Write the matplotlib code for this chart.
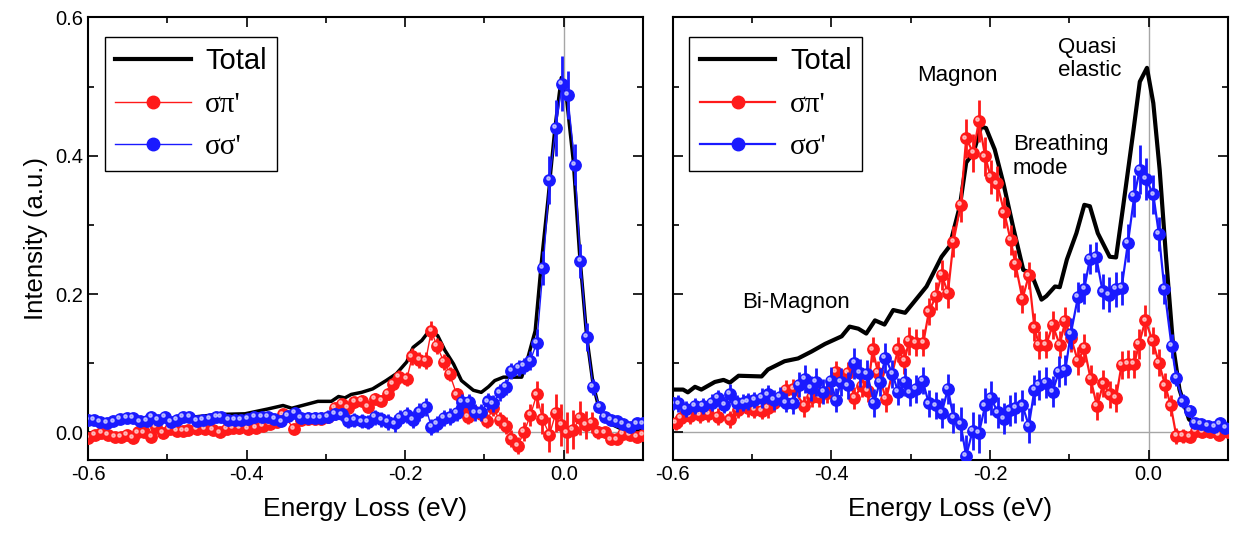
import matplotlib
matplotlib.use("Agg")
import matplotlib.pyplot as plt
from matplotlib.lines import Line2D
from matplotlib.transforms import offset_copy
import numpy as np

plt.rcParams['font.family'] = ['Liberation Sans', 'DejaVu Sans']

# ---- left panel ----
left_total_e = [-0.600, -0.562, -0.541, -0.520, -0.478, -0.436, -0.402, -0.373, -0.354, -0.343,
                -0.310, -0.293, -0.284, -0.276, -0.268, -0.255, -0.241, -0.224, -0.211, -0.198,
                -0.190, -0.179, -0.169, -0.159, -0.150, -0.139, -0.129, -0.114, -0.104, -0.095,
                -0.087, -0.076, -0.064, -0.053, -0.045, -0.036, -0.028, -0.020, -0.011, -0.003,
                0.003, 0.012, 0.020, 0.029, 0.037, 0.045, 0.058, 0.071, 0.083, 0.098]
left_total_i = [0.017, 0.015, 0.017, 0.015, 0.021, 0.026, 0.027, 0.034, 0.039, 0.035,
                0.045, 0.045, 0.052, 0.050, 0.055, 0.058, 0.063, 0.075, 0.085, 0.102,
                0.123, 0.133, 0.148, 0.140, 0.119, 0.099, 0.075, 0.061, 0.058, 0.066,
                0.075, 0.080, 0.080, 0.080, 0.109, 0.147, 0.248, 0.335, 0.441, 0.513,
                0.489, 0.393, 0.258, 0.138, 0.070, 0.032, 0.013, 0.006, 0.003, 0.003]

left_sp_e = [-0.600, -0.591, -0.583, -0.575, -0.566, -0.558, -0.551, -0.543, -0.537, -0.529,
             -0.520, -0.514, -0.505, -0.497, -0.488, -0.480, -0.474, -0.463, -0.453, -0.442,
             -0.434, -0.425, -0.417, -0.409, -0.398, -0.388, -0.379, -0.371, -0.362, -0.354,
             -0.340, -0.331, -0.322, -0.314, -0.306, -0.297, -0.289, -0.280, -0.272, -0.264,
             -0.255, -0.247, -0.238, -0.230, -0.222, -0.215, -0.208, -0.198, -0.191, -0.182,
             -0.174, -0.167, -0.160, -0.151, -0.144, -0.135, -0.127, -0.121, -0.112, -0.104,
             -0.097, -0.089, -0.081, -0.073, -0.066, -0.058, -0.050, -0.042, -0.034, -0.027,
             -0.018, -0.010, -0.003, 0.004, 0.012, 0.020, 0.028, 0.036, 0.043, 0.052,
             0.059, 0.067, 0.075, 0.083, 0.092, 0.100]
left_sp_i = [-0.008, -0.003, -0.001, -0.003, -0.006, -0.006, -0.004, -0.008, 0.000, 0.000,
             -0.006, 0.008, -0.001, 0.005, 0.002, 0.002, 0.003, 0.005, 0.005, 0.004,
             0.000, 0.005, 0.007, 0.007, 0.005, 0.007, 0.010, 0.012, 0.015, 0.026,
             0.005, 0.018, 0.019, 0.020, 0.020, 0.022, 0.036, 0.041, 0.036, 0.044,
             0.046, 0.037, 0.049, 0.046, 0.056, 0.070, 0.080, 0.077, 0.110, 0.105,
             0.104, 0.147, 0.125, 0.102, 0.085, 0.055, 0.034, 0.022, 0.029, 0.026,
             0.016, 0.036, 0.018, 0.010, -0.009, -0.019, 0.001, 0.025, 0.055, 0.020,
             -0.003, 0.028, 0.011, 0.000, 0.004, 0.021, 0.011, 0.014, 0.000, 0.000,
             -0.010, -0.010, -0.002, -0.003, -0.006, -0.004]
left_sp_err = [0.004, 0.004, 0.004, 0.004, 0.004, 0.004, 0.004, 0.004, 0.004, 0.004,
               0.004, 0.005, 0.004, 0.004, 0.004, 0.004, 0.004, 0.004, 0.004, 0.004,
               0.004, 0.004, 0.005, 0.005, 0.005, 0.005, 0.005, 0.005, 0.006, 0.006,
               0.006, 0.006, 0.006, 0.006, 0.007, 0.007, 0.007, 0.008, 0.008, 0.008,
               0.008, 0.008, 0.008, 0.008, 0.009, 0.010, 0.010, 0.010, 0.012, 0.012,
               0.012, 0.014, 0.012, 0.012, 0.010, 0.010, 0.010, 0.010, 0.010, 0.010,
               0.010, 0.012, 0.012, 0.012, 0.012, 0.012, 0.014, 0.016, 0.020, 0.022,
               0.025, 0.028, 0.030, 0.030, 0.028, 0.025, 0.020, 0.015, 0.010, 0.008,
               0.006, 0.006, 0.005, 0.005, 0.005, 0.005]

left_ss_e = [-0.600, -0.593, -0.585, -0.576, -0.568, -0.560, -0.551, -0.543, -0.535, -0.526,
             -0.520, -0.512, -0.503, -0.495, -0.488, -0.480, -0.472, -0.463, -0.455, -0.446,
             -0.438, -0.432, -0.423, -0.415, -0.407, -0.398, -0.390, -0.381, -0.373, -0.365,
             -0.356, -0.348, -0.339, -0.331, -0.322, -0.314, -0.306, -0.297, -0.289, -0.280,
             -0.272, -0.264, -0.255, -0.247, -0.238, -0.230, -0.222, -0.213, -0.207, -0.198,
             -0.190, -0.182, -0.174, -0.167, -0.160, -0.151, -0.143, -0.135, -0.128, -0.120,
             -0.112, -0.104, -0.096, -0.089, -0.081, -0.073, -0.066, -0.057, -0.050, -0.042,
             -0.034, -0.026, -0.018, -0.010, -0.002, 0.005, 0.014, 0.021, 0.029, 0.037,
             0.045, 0.052, 0.059, 0.067, 0.075, 0.083, 0.092, 0.100]
left_ss_i = [0.018, 0.018, 0.015, 0.014, 0.016, 0.020, 0.021, 0.021, 0.016, 0.017,
             0.023, 0.018, 0.022, 0.015, 0.018, 0.023, 0.022, 0.017, 0.018, 0.020,
             0.022, 0.023, 0.018, 0.018, 0.018, 0.020, 0.022, 0.023, 0.022, 0.020,
             0.016, 0.024, 0.028, 0.021, 0.021, 0.021, 0.021, 0.023, 0.027, 0.026,
             0.017, 0.018, 0.016, 0.015, 0.022, 0.019, 0.015, 0.013, 0.021, 0.025,
             0.018, 0.030, 0.037, 0.008, 0.012, 0.021, 0.023, 0.028, 0.044, 0.044,
             0.029, 0.029, 0.045, 0.042, 0.058, 0.066, 0.089, 0.093, 0.096, 0.104,
             0.130, 0.238, 0.365, 0.440, 0.504, 0.488, 0.387, 0.248, 0.138, 0.066,
             0.037, 0.022, 0.018, 0.016, 0.012, 0.008, 0.013, 0.013]
left_ss_err = [0.004, 0.004, 0.004, 0.004, 0.004, 0.004, 0.004, 0.004, 0.004, 0.004,
               0.004, 0.004, 0.004, 0.004, 0.004, 0.004, 0.004, 0.004, 0.004, 0.004,
               0.005, 0.005, 0.005, 0.005, 0.005, 0.005, 0.005, 0.006, 0.006, 0.006,
               0.006, 0.006, 0.007, 0.007, 0.008, 0.008, 0.008, 0.009, 0.009, 0.009,
               0.010, 0.010, 0.010, 0.010, 0.011, 0.011, 0.012, 0.012, 0.012, 0.012,
               0.012, 0.013, 0.013, 0.012, 0.012, 0.012, 0.012, 0.012, 0.012, 0.012,
               0.012, 0.012, 0.012, 0.012, 0.012, 0.012, 0.012, 0.012, 0.012, 0.014,
               0.020, 0.025, 0.035, 0.040, 0.040, 0.035, 0.030, 0.025, 0.020, 0.012,
               0.008, 0.006, 0.005, 0.005, 0.005, 0.005, 0.005, 0.005]

# ---- right panel ----
right_total_e = [-0.600, -0.587, -0.581, -0.572, -0.564, -0.547, -0.536, -0.528, -0.517, -0.488,
                 -0.480, -0.459, -0.442, -0.425, -0.408, -0.387, -0.377, -0.366, -0.356, -0.345,
                 -0.333, -0.322, -0.307, -0.297, -0.280, -0.261, -0.251, -0.238, -0.230, -0.221,
                 -0.211, -0.205, -0.194, -0.183, -0.171, -0.158, -0.148, -0.135, -0.129, -0.118,
                 -0.112, -0.103, -0.091, -0.081, -0.074, -0.064, -0.049, -0.041, -0.032, -0.019,
                 -0.011, -0.002, 0.006, 0.014, 0.022, 0.031, 0.039, 0.051, 0.064, 0.100]
right_total_i = [0.062, 0.062, 0.058, 0.066, 0.062, 0.073, 0.076, 0.072, 0.082, 0.081,
                 0.091, 0.103, 0.107, 0.117, 0.128, 0.139, 0.153, 0.150, 0.143, 0.162,
                 0.156, 0.177, 0.173, 0.187, 0.211, 0.254, 0.269, 0.327, 0.390, 0.404,
                 0.442, 0.440, 0.409, 0.360, 0.298, 0.235, 0.230, 0.192, 0.197, 0.211,
                 0.210, 0.250, 0.288, 0.329, 0.327, 0.288, 0.254, 0.253, 0.327, 0.437,
                 0.507, 0.527, 0.476, 0.380, 0.254, 0.125, 0.062, 0.019, 0.007, 0.002]

right_sp_e = [-0.596, -0.590, -0.578, -0.566, -0.555, -0.543, -0.528, -0.518, -0.505, -0.497,
              -0.488, -0.480, -0.472, -0.457, -0.448, -0.434, -0.425, -0.415, -0.405, -0.394,
              -0.379, -0.371, -0.362, -0.354, -0.348, -0.341, -0.331, -0.316, -0.308, -0.302,
              -0.293, -0.284, -0.277, -0.268, -0.261, -0.253, -0.246, -0.237, -0.230, -0.221,
              -0.214, -0.206, -0.199, -0.191, -0.182, -0.174, -0.168, -0.159, -0.151, -0.144,
              -0.138, -0.129, -0.121, -0.112, -0.105, -0.098, -0.089, -0.081, -0.073, -0.065,
              -0.057, -0.049, -0.041, -0.034, -0.026, -0.018, -0.012, -0.004, 0.005, 0.013,
              0.021, 0.028, 0.035, 0.043, 0.052, 0.060, 0.068, 0.077, 0.089, 0.100]
right_sp_i = [0.014, 0.021, 0.024, 0.025, 0.027, 0.023, 0.019, 0.033, 0.035, 0.033,
              0.031, 0.035, 0.043, 0.062, 0.063, 0.038, 0.052, 0.052, 0.057, 0.088,
              0.086, 0.050, 0.067, 0.060, 0.120, 0.086, 0.048, 0.120, 0.103, 0.132,
              0.130, 0.130, 0.175, 0.197, 0.228, 0.202, 0.276, 0.329, 0.425, 0.404,
              0.450, 0.399, 0.369, 0.360, 0.318, 0.278, 0.244, 0.193, 0.227, 0.152,
              0.126, 0.127, 0.155, 0.127, 0.161, 0.137, 0.103, 0.122, 0.077, 0.038,
              0.071, 0.055, 0.050, 0.098, 0.099, 0.099, 0.128, 0.162, 0.133, 0.101,
              0.068, 0.039, -0.005, -0.005, -0.006, 0.002, 0.001, 0.001, -0.004, 0.000]
right_sp_err = [0.010, 0.012, 0.012, 0.012, 0.012, 0.012, 0.012, 0.012, 0.012, 0.012,
                0.012, 0.014, 0.014, 0.014, 0.014, 0.015, 0.015, 0.015, 0.015, 0.016,
                0.016, 0.016, 0.016, 0.016, 0.018, 0.018, 0.018, 0.018, 0.018, 0.020,
                0.020, 0.020, 0.020, 0.020, 0.022, 0.022, 0.022, 0.025, 0.028, 0.028,
                0.030, 0.028, 0.025, 0.025, 0.022, 0.022, 0.020, 0.020, 0.020, 0.020,
                0.020, 0.020, 0.020, 0.020, 0.020, 0.020, 0.020, 0.020, 0.020, 0.020,
                0.020, 0.020, 0.020, 0.020, 0.020, 0.020, 0.022, 0.022, 0.020, 0.020,
                0.018, 0.015, 0.012, 0.010, 0.008, 0.006, 0.006, 0.006, 0.006, 0.006]

right_ss_e = [-0.600, -0.593, -0.583, -0.572, -0.562, -0.551, -0.543, -0.535, -0.528, -0.519,
              -0.511, -0.505, -0.497, -0.488, -0.480, -0.472, -0.465, -0.457, -0.448, -0.441,
              -0.433, -0.426, -0.419, -0.410, -0.401, -0.394, -0.388, -0.379, -0.371, -0.364,
              -0.355, -0.346, -0.339, -0.332, -0.323, -0.316, -0.307, -0.301, -0.293, -0.285,
              -0.277, -0.268, -0.261, -0.253, -0.246, -0.237, -0.230, -0.222, -0.214, -0.206,
              -0.199, -0.190, -0.182, -0.175, -0.168, -0.159, -0.151, -0.144, -0.138, -0.129,
              -0.121, -0.113, -0.105, -0.098, -0.089, -0.081, -0.074, -0.066, -0.058, -0.050,
              -0.041, -0.034, -0.026, -0.018, -0.011, -0.003, 0.006, 0.013, 0.020, 0.029,
              0.035, 0.043, 0.052, 0.058, 0.066, 0.075, 0.083, 0.090, 0.097]
right_ss_i = [0.042, 0.042, 0.034, 0.038, 0.038, 0.043, 0.050, 0.040, 0.056, 0.042,
              0.043, 0.045, 0.047, 0.050, 0.055, 0.047, 0.052, 0.043, 0.043, 0.069,
              0.077, 0.064, 0.073, 0.059, 0.074, 0.047, 0.073, 0.068, 0.100, 0.086,
              0.085, 0.043, 0.073, 0.108, 0.085, 0.059, 0.073, 0.058, 0.063, 0.075,
              0.042, 0.039, 0.028, 0.063, 0.021, 0.012, -0.034, 0.002, -0.001, 0.039,
              0.050, 0.029, 0.020, 0.032, 0.036, 0.039, 0.010, 0.061, 0.069, 0.072,
              0.059, 0.088, 0.090, 0.143, 0.196, 0.208, 0.251, 0.254, 0.204, 0.199,
              0.207, 0.209, 0.274, 0.342, 0.380, 0.366, 0.344, 0.287, 0.207, 0.125,
              0.079, 0.045, 0.031, 0.014, 0.012, 0.009, 0.008, 0.013, 0.007]
right_ss_err = [0.010, 0.012, 0.012, 0.012, 0.012, 0.012, 0.012, 0.012, 0.014, 0.012,
                0.012, 0.012, 0.012, 0.014, 0.014, 0.014, 0.014, 0.014, 0.016, 0.018,
                0.020, 0.018, 0.020, 0.018, 0.020, 0.018, 0.020, 0.020, 0.022, 0.020,
                0.020, 0.020, 0.020, 0.022, 0.020, 0.020, 0.020, 0.020, 0.020, 0.020,
                0.020, 0.020, 0.022, 0.022, 0.022, 0.025, 0.030, 0.028, 0.028, 0.025,
                0.025, 0.022, 0.022, 0.022, 0.022, 0.022, 0.025, 0.022, 0.022, 0.022,
                0.022, 0.022, 0.022, 0.022, 0.022, 0.022, 0.022, 0.022, 0.025, 0.025,
                0.025, 0.025, 0.028, 0.030, 0.035, 0.030, 0.028, 0.025, 0.022, 0.018,
                0.012, 0.010, 0.008, 0.006, 0.006, 0.006, 0.006, 0.006, 0.006]

RED = '#ff1a1a'
BLUE = '#1a1aff'

fig = plt.figure(figsize=(12.39, 5.42), dpi=100)
ax1 = fig.add_axes([0.071, 0.151, 0.448, 0.817])
ax2 = fig.add_axes([0.543, 0.151, 0.448, 0.817])


def draw(ax, tot_e, tot_i, sp_e, sp_i, sp_err, ss_e, ss_i, ss_err, lw_tot, lw_pts):
    ax.axhline(0, color='#a6a6a6', lw=1, zorder=0)
    ax.axvline(0, color='#a6a6a6', lw=1, zorder=0)
    ax.plot(tot_e, tot_i, color='black', lw=lw_tot, zorder=2)
    hi = offset_copy(ax.transData, fig=fig, x=-1.3, y=1.3, units='points')
    for e, i, err, c, z in [(sp_e, sp_i, sp_err, RED, 3), (ss_e, ss_i, ss_err, BLUE, 4)]:
        ax.errorbar(e, i, yerr=err, fmt='-o', color=c, ms=8.2, lw=lw_pts,
                    elinewidth=2, capsize=0, zorder=z)
        ax.plot(e, i, 'o', ms=2.4, color='white', alpha=0.55, lw=0,
                transform=hi, zorder=z + 0.5)
    ax.set_xlim(-0.6, 0.1)
    ax.set_ylim(-0.04, 0.6)
    ax.set_xticks([-0.6, -0.4, -0.2, 0.0])
    ax.set_xticks([-0.5, -0.3, -0.1, 0.1], minor=True)
    ax.set_yticks([0.0, 0.2, 0.4, 0.6])
    ax.set_yticks([0.1, 0.3, 0.5], minor=True)
    ax.xaxis.set_major_formatter(plt.FormatStrFormatter('%.1f'))
    ax.yaxis.set_major_formatter(plt.FormatStrFormatter('%.1f'))
    ax.tick_params(which='both', direction='in', top=True, right=True, width=1.2,
                   labelsize=14.5)
    ax.tick_params(which='major', length=7)
    ax.tick_params(which='minor', length=4)
    for s in ax.spines.values():
        s.set_linewidth(1.5)
    ax.set_xlabel('Energy Loss (eV)', fontsize=19, labelpad=9)

    handles = [Line2D([], [], color='black', lw=3),
               Line2D([], [], color=RED, marker='o', ms=9, lw=lw_pts),
               Line2D([], [], color=BLUE, marker='o', ms=9, lw=lw_pts)]
    leg = ax.legend(handles, ['Total', "σπ'", "σσ'"], loc='upper left',
                    bbox_to_anchor=(0.03, 0.955), borderaxespad=0, fontsize=21,
                    handlelength=2.6, labelspacing=0.55, fancybox=False,
                    framealpha=1, edgecolor='black', borderpad=0.35,
                    handletextpad=0.5)
    leg.get_frame().set_linewidth(1)
    for t in leg.get_texts()[1:]:
        t.set_family(['Liberation Serif', 'DejaVu Serif'])


draw(ax1, left_total_e, left_total_i, left_sp_e, left_sp_i, left_sp_err,
     left_ss_e, left_ss_i, left_ss_err, 2.5, 1.0)
draw(ax2, right_total_e, right_total_i, right_sp_e, right_sp_i, right_sp_err,
     right_ss_e, right_ss_i, right_ss_err, 3.0, 1.6)

ax1.set_ylabel('Intensity (a.u.)', fontsize=18.5, labelpad=5)
ax2.tick_params(labelleft=False)

ax2.text(-0.241, 0.516, 'Magnon', fontsize=16, ha='center', va='center')
ax2.text(-0.114, 0.54, 'Quasi\nelastic', fontsize=16, ha='left', va='center',
         linespacing=1.1)
ax2.text(-0.171, 0.399, 'Breathing\nmode', fontsize=16, ha='left', va='center',
         linespacing=1.15)
ax2.text(-0.513, 0.188, 'Bi-Magnon', fontsize=16, ha='left', va='center')

fig.savefig('out.png', dpi=100)
